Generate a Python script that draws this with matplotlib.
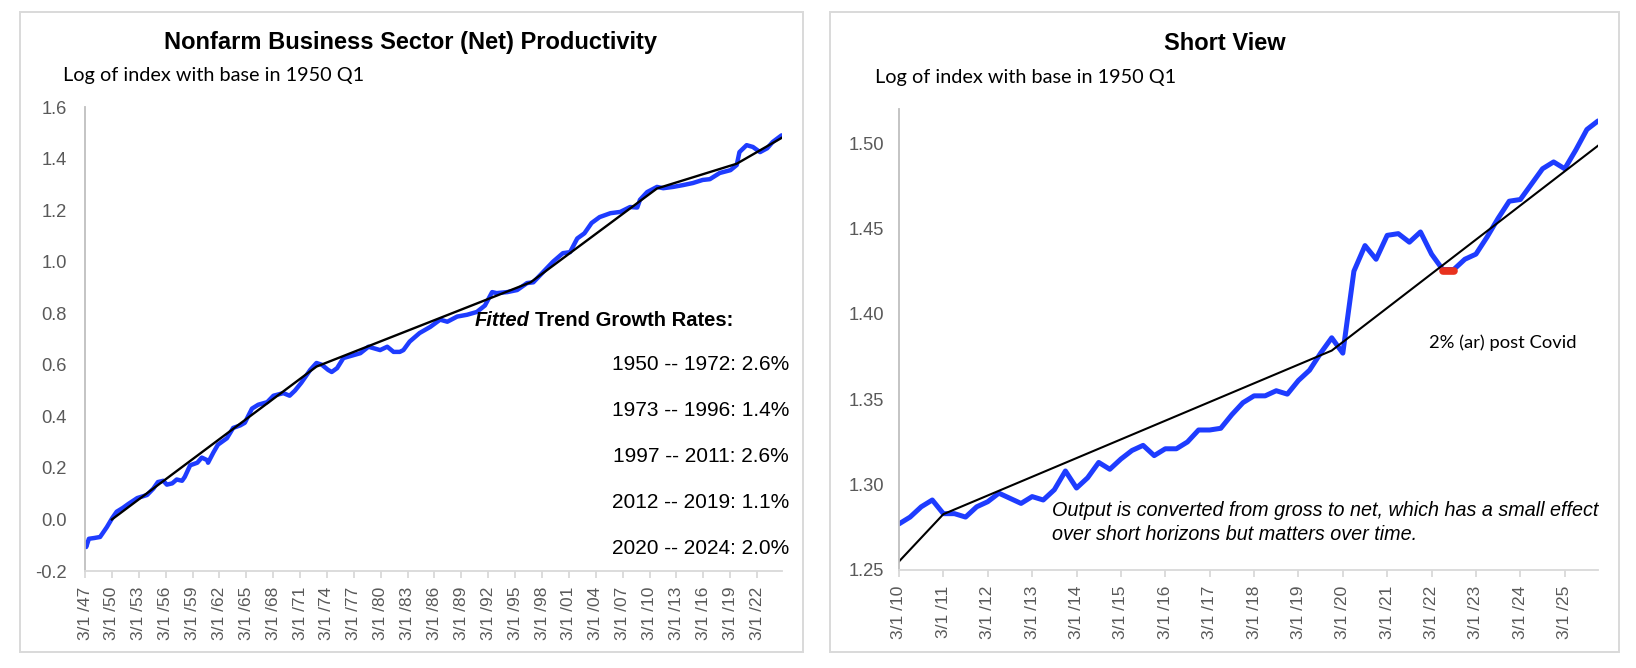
import matplotlib.pyplot as plt
from matplotlib.patches import Rectangle

# long view: decimal year, log of index (base 1950 Q1)
long_years = [1947.17, 1947.3, 1947.6, 1948.2, 1948.85, 1949.6, 1950.2, 1950.7, 1951.4, 1952.0,
              1953.0, 1954.1, 1954.8, 1955.3, 1955.9, 1956.3, 1956.9, 1957.4, 1958.0, 1958.3,
              1958.9, 1959.7, 1960.2, 1960.8, 1960.9, 1961.5, 1962.0, 1963.0, 1963.7, 1964.5,
              1965.0, 1965.8, 1966.5, 1967.5, 1968.2, 1969.3, 1970.0, 1970.6, 1971.3, 1972.3,
              1973.0, 1973.6, 1974.3, 1974.7, 1975.3, 1976.0, 1977.1, 1977.9, 1978.8, 1979.3,
              1980.1, 1980.9, 1981.6, 1982.3, 1982.7, 1983.4, 1984.5, 1985.7, 1986.8, 1987.6,
              1988.7, 1989.8, 1990.9, 1991.8, 1992.6, 1993.1, 1994.3, 1995.4, 1996.5, 1997.2,
              1998.3, 1999.4, 2000.5, 2001.3, 2002.1, 2002.9, 2003.7, 2004.6, 2005.8, 2006.9,
              2008.0, 2008.8, 2009.1, 2009.9, 2011.0, 2011.7, 2012.8, 2013.9, 2015.0, 2016.1,
              2016.9, 2018.0, 2019.2, 2019.9, 2020.2, 2021.0, 2021.7, 2022.5, 2023.3, 2023.9,
              2024.9]
long_values = [-0.09, -0.107, -0.075, -0.072, -0.068, -0.03, 0.005, 0.03, 0.045, 0.06,
               0.083, 0.095, 0.12, 0.145, 0.15, 0.135, 0.14, 0.155, 0.15, 0.165,
               0.21, 0.22, 0.24, 0.23, 0.22, 0.26, 0.29, 0.315, 0.355, 0.365,
               0.375, 0.43, 0.445, 0.455, 0.48, 0.49, 0.48, 0.50, 0.53, 0.58,
               0.607, 0.60, 0.58, 0.572, 0.587, 0.626, 0.637, 0.645, 0.67, 0.665,
               0.657, 0.67, 0.65, 0.65, 0.657, 0.69, 0.723, 0.747, 0.775, 0.767,
               0.787, 0.794, 0.805, 0.83, 0.882, 0.878, 0.882, 0.89, 0.917, 0.92,
               0.96, 1.0, 1.033, 1.037, 1.09, 1.11, 1.15, 1.173, 1.188, 1.193,
               1.212, 1.21, 1.24, 1.27, 1.29, 1.285, 1.29, 1.297, 1.305, 1.317,
               1.32, 1.344, 1.355, 1.375, 1.425, 1.452, 1.445, 1.425, 1.44, 1.464,
               1.49]
long_trend_years = [1950.17, 1973.0, 1996.9, 2011.0, 2019.9, 2024.9]
long_trend_values = [0.0, 0.593, 0.92, 1.284, 1.38, 1.48]
long_tick_years = [1947 + 3 * k for k in range(26)]
long_tick_labels = ['3/1 /%02d' % (y % 100) for y in long_tick_years]

growth_rates = ['1950 -- 1972: 2.6%', '1973 -- 1996: 1.4%', '1997 -- 2011: 2.6%',
                '2012 -- 2019: 1.1%', '2020 -- 2024: 2.0%']

# short view: quarterly, 2010 Q1 .. 2025 Q4
short_values = [1.277, 1.281, 1.287, 1.291, 1.283, 1.283, 1.281, 1.287, 1.290, 1.295,
                1.292, 1.289, 1.293, 1.291, 1.297, 1.308, 1.298, 1.304, 1.313, 1.309,
                1.315, 1.320, 1.323, 1.317, 1.321, 1.321, 1.325, 1.332, 1.332, 1.333,
                1.341, 1.348, 1.352, 1.352, 1.355, 1.353, 1.361, 1.367, 1.377, 1.386,
                1.377, 1.425, 1.440, 1.432, 1.446, 1.447, 1.442, 1.448, 1.435, 1.426,
                1.426, 1.432, 1.435, 1.445, 1.456, 1.466, 1.467, 1.476, 1.485, 1.489,
                1.485, 1.496, 1.508, 1.513]
short_trend_idx = [0, 4, 39, 63]
short_trend_values = [1.255, 1.2827, 1.3785, 1.4985]
short_tick_labels = ['3/1 /%02d' % y for y in range(10, 26)]
highlight_idx = [49, 50]

W, H = 1636, 668
blue = '#1e3cff'
grey_txt = '#595959'

fig = plt.figure(figsize=(W / 100, H / 100), dpi=100)


def fx(px):
    return px / W


def fy(py):
    return 1 - py / H


# panel borders
for x0, x1 in [(20, 803), (830, 1619)]:
    fig.patches.append(Rectangle((fx(x0), fy(652)), fx(x1 - x0), (652 - 12) / H,
                                 transform=fig.transFigure, fill=False,
                                 edgecolor='#d9d9d9', linewidth=1.4))


def style_axes(ax, ypad):
    for s in ['top', 'right']:
        ax.spines[s].set_visible(False)
    ax.spines['left'].set_color('#bfbfbf')
    ax.spines['left'].set_linewidth(1.3)
    ax.spines['bottom'].set_color('#d9d9d9')
    ax.spines['bottom'].set_linewidth(1.3)
    ax.tick_params(axis='y', length=0, pad=ypad, labelsize=13.2, labelcolor=grey_txt)
    ax.tick_params(axis='x', length=5, width=1.3, color='#d9d9d9', pad=6,
                   labelsize=12.5, labelcolor=grey_txt)
    for lab in ax.get_xticklabels() + ax.get_yticklabels():
        lab.set_fontfamily('Liberation Sans')


# left chart
ax1 = fig.add_axes([fx(85), fy(571), fx(782 - 85), (571 - 107) / H])
ax1.plot(long_years, long_values, color=blue, linewidth=3.2, solid_capstyle='round',
         solid_joinstyle='round')
ax1.plot(long_trend_years, long_trend_values, color='black', linewidth=1.7)
ax1.set_xlim(1947.17, 2024.95)
ax1.set_ylim(-0.2, 1.6)
ax1.set_yticks([-0.2, 0.0, 0.2, 0.4, 0.6, 0.8, 1.0, 1.2, 1.4, 1.6])
ax1.set_yticklabels(['%.1f' % v for v in ax1.get_yticks()])
ax1.set_xticks([y + 2 / 12 for y in long_tick_years])
ax1.set_xticklabels(long_tick_labels, rotation=90)
style_axes(ax1, 13)

# right chart
ax2 = fig.add_axes([fx(899), fy(570), fx(1598 - 899), (570 - 109) / H])
ax2.plot(range(len(short_values)), short_values, color=blue, linewidth=3.6,
         solid_capstyle='round', solid_joinstyle='round')
ax2.plot(short_trend_idx, short_trend_values, color='black', linewidth=1.5)
ax2.plot(highlight_idx, [short_values[i] - 0.0008 for i in highlight_idx], color='#e8321e',
         linewidth=5.5, solid_capstyle='round')
ax2.set_xlim(0, len(short_values) - 1)
ax2.set_ylim(1.25, 1.52)
ax2.set_yticks([1.25, 1.30, 1.35, 1.40, 1.45, 1.50])
ax2.set_yticklabels(['%.2f' % v for v in ax2.get_yticks()])
ax2.set_xticks(range(0, 61, 4))
ax2.set_xticklabels(short_tick_labels, rotation=90)
style_axes(ax2, 11)

# titles and subtitles
fig.text(fx(411), fy(42), 'Nonfarm Business Sector (Net) Productivity', ha='center', va='center',
         fontsize=17, fontweight='bold', family='Liberation Sans')
fig.text(fx(63), fy(76), 'Log of index with base in 1950 Q1', ha='left', va='center',
         fontsize=14.3, family='Lato')
fig.text(fx(1225), fy(43), 'Short View', ha='center', va='center',
         fontsize=17, fontweight='bold', family='Liberation Sans')
fig.text(fx(875), fy(77), 'Log of index with base in 1950 Q1', ha='left', va='center',
         fontsize=14.3, family='Lato')

# fitted growth rates
fig.text(fx(530), fy(320), 'Fitted', ha='right', va='center', fontsize=14.5,
         fontweight='bold', fontstyle='italic', family='Liberation Sans')
fig.text(fx(535), fy(320), 'Trend Growth Rates:', ha='left', va='center', fontsize=14.5,
         fontweight='bold', family='Liberation Sans')
for i, s in enumerate(growth_rates):
    fig.text(fx(789), fy(365 + 46 * i), s, ha='right', va='center', fontsize=15,
             family='Liberation Sans')

# short view notes
fig.text(fx(1429), fy(343), '2% (ar) post Covid', ha='left', va='center', fontsize=13.2,
         family='Lato')
fig.text(fx(1052), fy(510), 'Output is converted from gross to net, which has a small effect',
         ha='left', va='center', fontsize=14.2, fontstyle='italic', family='Liberation Sans')
fig.text(fx(1052), fy(535), 'over short horizons but matters over time.',
         ha='left', va='center', fontsize=14.2, fontstyle='italic', family='Liberation Sans')

fig.savefig('out.png', dpi=100)
